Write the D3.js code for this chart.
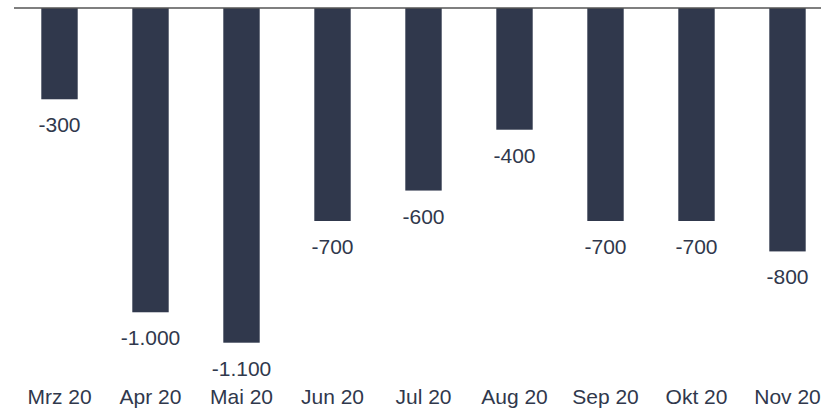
<!DOCTYPE html>
<html>
<head>
    <meta charset="utf-8">
    <script src="https://cdnjs.cloudflare.com/ajax/libs/d3/7.8.5/d3.min.js"></script>
    <style>
        body { margin: 0; background: #fff; }
        text { font-family: "Liberation Sans", Arial, sans-serif; font-size: 21px; fill: #30384c; }
    </style>
</head>
<body>
    <div id="chart"></div>
    <script>
        const width = 821, height = 408;

        const months = ["Mrz 20", "Apr 20", "Mai 20", "Jun 20", "Jul 20", "Aug 20", "Sep 20", "Okt 20", "Nov 20"];
        const values = [-300, -1000, -1100, -700, -600, -400, -700, -700, -800];

        // German style thousands separator, plain hyphen for minus
        const fmt = v => d3.format(",")(v).replace(/,/g, ".").replace("\u2212", "-");

        const svg = d3.select("#chart").append("svg")
            .attr("width", width).attr("height", height);

        const x = d3.scaleBand()
            .domain(months)
            .range([14, 833])
            .paddingInner(0.6)
            .paddingOuter(0.3);

        const y = d3.scaleLinear()
            .domain([0, -1100])
            .range([8, 342.7]);

        svg.append("g")
            .selectAll("rect")
            .data(values)
            .enter().append("rect")
            .attr("x", (d, i) => x(months[i]))
            .attr("y", y(0))
            .attr("width", x.bandwidth())
            .attr("height", d => y(d) - y(0))
            .attr("fill", "#30384c");

        // zero line
        svg.append("line")
            .attr("x1", 14).attr("x2", width)
            .attr("y1", y(0)).attr("y2", y(0))
            .attr("stroke", "#555")
            .attr("stroke-width", 1.5);

        // value labels
        svg.append("g")
            .selectAll("text")
            .data(values)
            .enter().append("text")
            .attr("x", (d, i) => x(months[i]) + x.bandwidth() / 2)
            .attr("y", d => y(d) + 33)
            .attr("text-anchor", "middle")
            .text(d => fmt(d));

        // category labels
        svg.append("g")
            .selectAll("text")
            .data(months)
            .enter().append("text")
            .attr("x", d => x(d) + x.bandwidth() / 2)
            .attr("y", 404)
            .attr("text-anchor", "middle")
            .text(d => d);
    </script>
</body>
</html>
